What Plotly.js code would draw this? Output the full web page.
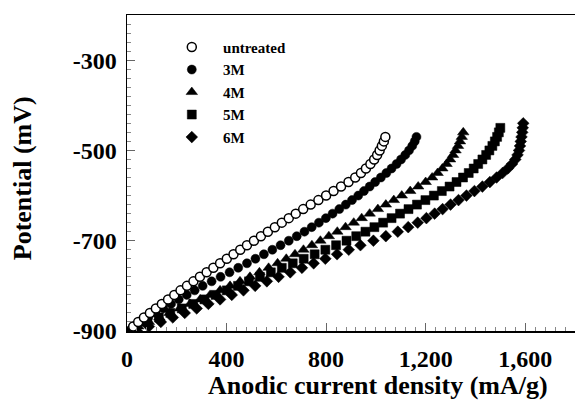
<!DOCTYPE html>
<html>
<head>
<meta charset="utf-8">
<script src="https://cdn.plot.ly/plotly-3.0.1.min.js"></script>
<style>html,body{margin:0;padding:0;background:#fff;}#chart{width:575px;height:407px;}</style>
</head>
<body>
<div id="chart"></div>
<script>
// Potential (mV) and anodic current density (mA/g)
const untreatedE = [-890,-880,-870,-860,-850,-840,-830,-820,-810,-800,-790,-780,-770,-760,-750,-740,-730,-720,-710,-700,-690,-680,-670,-660,-650,-640,-630,-620,-610,-600,-590,-580,-570,-560,-550,-540,-530,-520,-510,-500,-490,-480,-470];
const untreatedI = [25,45,68,92,116,140,165,190,215,241,267,293,320,347,374,401,428,455,482,510,538,566,594,622,650,678,708,738,769,800,830,860,890,917,940,960,978,993,1005,1015,1024,1032,1038];

const m3E = [-890,-880,-870,-860,-850,-840,-830,-820,-810,-800,-790,-780,-770,-760,-750,-740,-730,-720,-710,-700,-690,-680,-670,-660,-650,-640,-630,-620,-610,-600,-590,-580,-570,-560,-550,-540,-530,-520,-510,-500,-490,-480,-470];
const m3I = [25,55,85,115,146,177,208,240,272,304,340,376,412,447,482,516,550,584,617,650,682,713,742,771,799,826,853,879,904,929,952,975,997,1020,1042,1063,1083,1101,1118,1133,1146,1156,1163];

const m4E = [-900,-890,-880,-870,-860,-850,-840,-830,-820,-810,-800,-790,-780,-770,-760,-750,-740,-730,-720,-710,-700,-690,-680,-670,-660,-650,-640,-630,-620,-610,-600,-590,-580,-570,-560,-550,-540,-530,-520,-510,-500,-490,-480,-470,-460];
const m4I = [0,45,88,130,171,212,253,294,334,374,414,454,494,532,569,605,640,675,709,743,777,811,845,878,911,943,975,1008,1040,1072,1104,1138,1170,1200,1226,1248,1267,1284,1298,1310,1320,1330,1338,1345,1351];

const m5E = [-890,-880,-870,-860,-850,-840,-830,-820,-810,-800,-790,-780,-770,-760,-750,-740,-730,-720,-710,-700,-690,-680,-670,-660,-650,-640,-630,-620,-610,-600,-590,-580,-570,-560,-550,-540,-530,-520,-510,-500,-490,-480,-470,-460,-450];
const m5I = [35,82,128,174,220,266,311,356,401,446,490,534,578,622,666,710,754,797,840,882,921,958,994,1029,1063,1097,1131,1165,1199,1233,1265,1296,1324,1350,1373,1393,1411,1428,1443,1456,1468,1478,1487,1494,1500];

const m6E = [-900,-890,-880,-870,-860,-850,-840,-830,-820,-810,-800,-790,-780,-770,-760,-750,-740,-730,-720,-710,-700,-690,-680,-670,-660,-650,-640,-630,-620,-610,-600,-590,-580,-570,-560,-550,-540,-530,-520,-510,-500,-490,-480,-470,-460,-450,-440];
const m6I = [40,88,136,184,232,280,327,374,421,468,515,562,609,656,703,750,797,844,891,938,990,1040,1088,1130,1168,1203,1236,1268,1300,1332,1364,1396,1428,1458,1485,1509,1530,1547,1560,1569,1575,1579,1582,1585,1588,1590,1592];

const seriesNames = ['untreated','3M','4M','5M','6M'];
const xTickVals = [0,400,800,1200,1600];
const xTickText = ['0','400','800','1,200','1,600'];
const yTickVals = [-900,-700,-500,-300];
const yTickText = ['-900','-700','-500','-300'];

const FONT = 'Liberation Serif, Times New Roman, serif';
const NB = '\u00a0\u00a0\u00a0';

function tr(name, x, y, symbol, fill, size) {
  return {
    type: 'scatter', mode: 'markers', name: NB + name, x: x, y: y,
    marker: {symbol: symbol, color: fill, size: size, line: {color: 'black', width: fill === 'white' ? 1.5 : 0.5}},
    hoverinfo: 'x+y'
  };
}

const data = [
  tr(seriesNames[4], m6I, m6E, 'diamond', 'black', 9),
  tr(seriesNames[3], m5I, m5E, 'square', 'black', 9),
  tr(seriesNames[2], m4I, m4E, 'triangle-up', 'black', 10),
  tr(seriesNames[1], m3I, m3E, 'circle', 'black', 9),
  tr(seriesNames[0], untreatedI, untreatedE, 'circle', 'white', 9)
];

const tickFont = {family: FONT, size: 24, weight: 'bold', color: 'black'};
const layout = {
  width: 575, height: 407,
  margin: {l: 127, r: 0, t: 15, b: 76},
  paper_bgcolor: 'white', plot_bgcolor: 'white',
  showlegend: true,
  legend: {x: 0.1, y: 0.95, xanchor: 'left', yanchor: 'top', bgcolor: 'rgba(0,0,0,0)',
           font: {family: FONT, size: 15, weight: 'bold', color: 'black'},
           traceorder: 'reversed', tracegroupgap: 0},
  xaxis: {
    range: [0, 1800], showline: true, linecolor: 'black', linewidth: 1.5, mirror: true,
    ticks: 'inside', ticklen: 8, tickcolor: '#666', tickwidth: 1,
    tickmode: 'array', tickvals: xTickVals, ticktext: xTickText,
    showgrid: false, zeroline: false, tickfont: tickFont, ticklabelstandoff: 6,
    minor: {dtick: 40, tick0: 0, ticks: 'inside', ticklen: 4, tickcolor: '#888', tickwidth: 1, showgrid: false}
  },
  yaxis: {
    range: [-900, -200], showline: true, linecolor: 'black', linewidth: 1.5, mirror: false,
    ticks: 'inside', ticklen: 8, tickcolor: '#666', tickwidth: 1,
    tickmode: 'array', tickvals: yTickVals, ticktext: yTickText,
    showgrid: false, zeroline: false, tickfont: tickFont, ticklabelstandoff: 4,
    minor: {dtick: 20, tick0: -900, ticks: 'inside', ticklen: 4, tickcolor: '#888', tickwidth: 1, showgrid: false}
  },
  annotations: [
    {text: 'Anodic current density (mA/g)', xref: 'paper', yref: 'paper', x: 0.56, y: -0.171,
     xanchor: 'center', yanchor: 'middle', showarrow: false,
     font: {family: FONT, size: 26, weight: 'bold', color: 'black'}},
    {text: 'Potential (mV)', xref: 'paper', yref: 'paper', x: -0.234, y: 0.484, textangle: -90,
     xanchor: 'center', yanchor: 'middle', showarrow: false,
     font: {family: FONT, size: 26, weight: 'bold', color: 'black'}}
  ]
};

Plotly.newPlot('chart', data, layout, {displayModeBar: false, staticPlot: true});
</script>
</body>
</html>
